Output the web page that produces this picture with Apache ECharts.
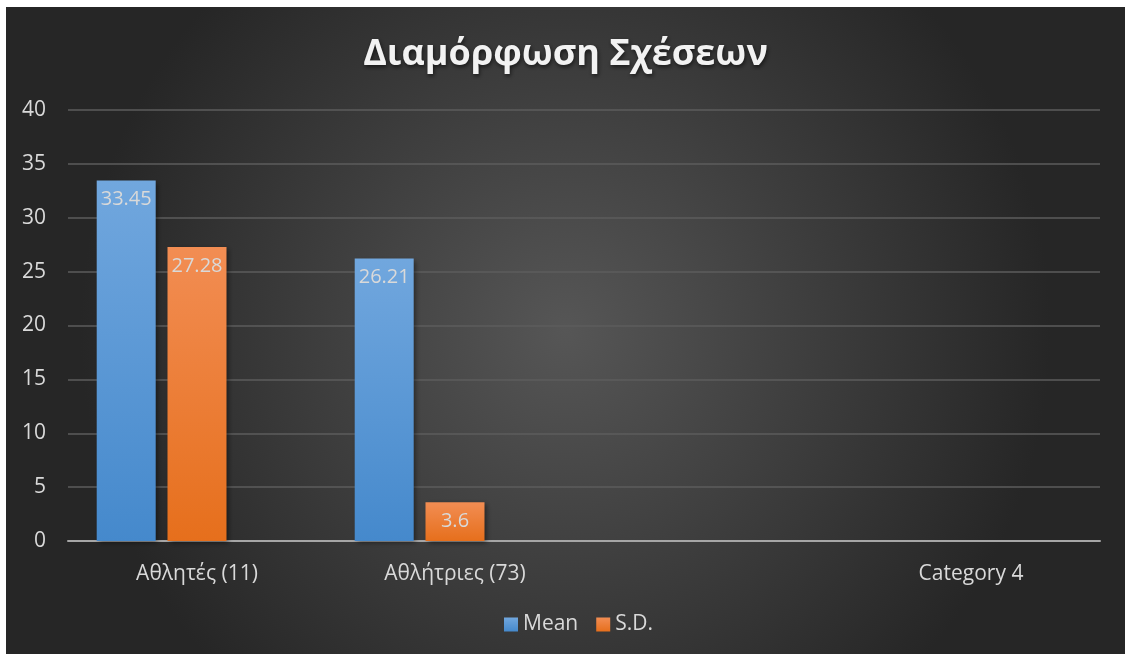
<!DOCTYPE html>
<html>
<head>
<meta charset="utf-8">
<script src="https://cdn.jsdelivr.net/npm/echarts@6/dist/echarts.min.js"></script>
<style>
  html, body { margin: 0; padding: 0; background: #ffffff; }
  #chart { position: absolute; left: 6px; top: 7px; width: 1119px; height: 647px; }
</style>
</head>
<body>
<div id="chart"></div>
<script>
// Categories along the x axis (third slot left blank)
const categories = ['Αθλητές (11)', 'Αθλήτριες (73)', '', 'Category 4'];
// Series values
const meanValues = [33.45, 26.21, null, null];
const sdValues = [27.28, 3.6, null, null];
// Placeholder third series that keeps its slot in each group
const series3Values = [null, null, null, null];
// Value axis ticks
const yTicks = [0, 5, 10, 15, 20, 25, 30, 35, 40];

const labelColor = '#d9d9d9';
const fontFamily = '"Open Sans", "Noto Sans", sans-serif';

function grad(top, bottom) {
  return new echarts.graphic.LinearGradient(0, 0, 0, 1, [
    { offset: 0, color: top },
    { offset: 1, color: bottom }
  ]);
}

const barLabel = {
  show: true,
  position: 'insideTop',
  distance: 9,
  color: labelColor,
  fontSize: 20,
  fontFamily: fontFamily
};

const chart = echarts.init(document.getElementById('chart'));
chart.setOption({
  backgroundColor: new echarts.graphic.RadialGradient(0.5, 0.5, 0.75, [
    { offset: 0, color: '#565656' },
    { offset: 1, color: '#262626' }
  ]),
  title: {
    text: 'Διαμόρφωση Σχέσεων',
    left: 'center',
    top: 25,
    textStyle: {
      color: '#f2f2f2',
      fontSize: 36,
      fontWeight: 'bold',
      fontFamily: fontFamily,
      textShadowColor: 'rgba(0,0,0,0.6)',
      textShadowBlur: 4,
      textShadowOffsetX: 1,
      textShadowOffsetY: 2
    }
  },
  legend: {
    data: ['Mean', 'S.D.'],
    bottom: 14,
    left: 493,
    icon: 'rect',
    itemWidth: 14,
    itemHeight: 14,
    itemGap: 18,
    textStyle: { color: labelColor, fontSize: 21, fontFamily: fontFamily }
  },
  grid: { left: 62, right: 25, top: 103, bottom: 113, containLabel: false },
  xAxis: {
    type: 'category',
    data: categories,
    axisLine: { lineStyle: { color: '#a6a6a6', width: 2 } },
    axisTick: { show: false },
    axisLabel: { color: labelColor, fontSize: 21, fontFamily: fontFamily, margin: 23, interval: 0 }
  },
  yAxis: {
    type: 'value',
    min: yTicks[0],
    max: yTicks[yTicks.length - 1],
    interval: yTicks[1] - yTicks[0],
    axisLine: { show: false },
    axisTick: { show: false },
    axisLabel: { color: labelColor, fontSize: 21, fontFamily: fontFamily, margin: 22 },
    splitLine: { lineStyle: { color: '#5c5c5c', width: 1.5 } }
  },
  series: [
    {
      name: 'Mean',
      type: 'bar',
      data: meanValues,
      barWidth: 59,
      barGap: '20%',
      itemStyle: {
        color: grad('#71a7de', '#4589cc'),
        shadowColor: 'rgba(0,0,0,0.45)',
        shadowBlur: 5,
        shadowOffsetX: 2,
        shadowOffsetY: 2
      },
      label: barLabel
    },
    {
      name: 'S.D.',
      type: 'bar',
      data: sdValues,
      barWidth: 59,
      barGap: '20%',
      itemStyle: {
        color: grad('#f28d53', '#e66f1c'),
        shadowColor: 'rgba(0,0,0,0.45)',
        shadowBlur: 5,
        shadowOffsetX: 2,
        shadowOffsetY: 2
      },
      label: barLabel
    },
    {
      name: 'Series 3',
      type: 'bar',
      data: series3Values,
      barWidth: 59,
      barGap: '20%',
      itemStyle: { color: '#a5a5a5' }
    }
  ]
});
</script>
</body>
</html>
